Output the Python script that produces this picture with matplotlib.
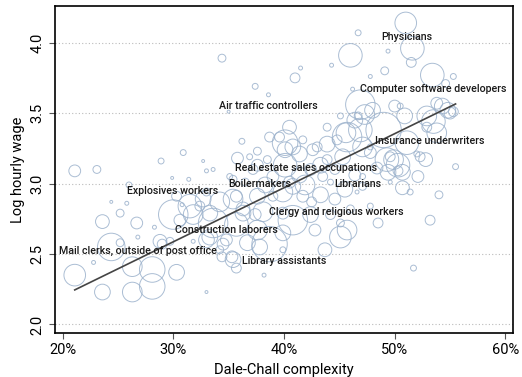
import numpy as np
import matplotlib.pyplot as plt

plt.rcParams['font.family'] = ['Roboto', 'DejaVu Sans']

# Dale-Chall complexity (%) , log hourly wage, employment (bubble size)
complexity = [
    51.0, 51.6, 51.5, 46.7, 49.4, 44.3, 46.0, 41.5, 41.0, 49.1, 47.8, 53.4, 55.3, 54.6,
    34.4, 37.4, 38.6, 35.0, 36.2, 35.8, 37.6, 30.9, 28.9, 32.7, 33.0, 33.6, 21.1, 23.1,
    29.9, 31.4, 26.0,
    46.9, 47.3, 46.4, 48.0, 46.2, 45.1, 46.7, 49.0, 45.6, 43.9, 40.5, 40.1, 43.9, 45.7,
    47.1, 41.4, 42.6, 43.9, 47.8, 49.3, 49.4,
    53.8, 54.3, 52.9, 50.9, 50.0, 55.0, 50.5, 53.5, 55.3, 52.9, 53.8, 52.8, 52.0, 55.5,
    49.9, 50.3, 52.1, 50.7, 51.4, 54.0, 53.2, 51.7, 54.8, 46.9, 51.1, 52.3, 50.7, 49.6,
    48.4, 45.3, 44.8, 43.0, 41.7, 40.8, 39.6, 47.8,
    43.5, 44.2, 47.8, 48.5, 49.6, 50.3, 45.7, 45.1, 46.6, 43.7, 39.9, 40.8, 41.7, 42.5,
    47.1, 40.8, 47.1, 45.1, 38.2, 40.5, 38.7, 42.4, 41.4, 43.3, 44.6, 46.0, 42.8, 44.2,
    46.4,
    21.1, 22.8, 23.6, 26.3, 28.1, 26.3, 28.1, 30.3, 24.4, 25.2, 23.6, 26.7, 25.2, 25.8,
    24.4, 26.8, 33.0, 28.8, 28.3, 30.0, 31.8, 32.4, 33.6, 29.7, 29.0, 31.8, 33.0, 34.2,
    34.4, 35.4, 35.7, 30.8, 33.0, 35.4, 36.3, 35.3, 36.7, 37.8, 34.5,
    38.7, 40.1, 38.5, 36.9, 35.1, 35.4, 37.2, 39.0, 30.3, 32.7, 31.5, 34.2, 35.7, 37.6,
    39.0, 39.9, 33.3, 36.3, 38.1, 39.9, 30.6, 35.7, 37.6, 33.3, 34.8, 39.9,
    37.6, 36.5, 43.3, 44.6, 40.1, 41.9, 38.3, 45.5, 42.4, 37.4,
]
log_wage = [
    4.14, 3.96, 3.86, 4.07, 3.94, 3.84, 3.91, 3.82, 3.75, 3.80, 3.76, 3.77, 3.76, 3.71,
    3.89, 3.69, 3.63, 3.51, 3.30, 3.18, 3.23, 3.22, 3.16, 3.16, 3.09, 3.10, 3.09, 3.10,
    3.04, 3.03, 2.99,
    3.56, 3.49, 3.45, 3.52, 3.67, 3.48, 3.48, 3.38, 3.36, 3.40, 3.40, 3.29, 3.28, 3.33,
    3.26, 3.21, 3.24, 3.17, 3.22, 3.17, 3.08,
    3.57, 3.55, 3.48, 3.48, 3.55, 3.50, 3.55, 3.44, 3.51, 3.40, 3.36, 3.17, 3.21, 3.12,
    3.17, 3.13, 3.05, 2.97, 2.94, 2.92, 2.74, 2.40, 3.52, 3.38, 3.29, 3.19, 3.08, 3.19,
    3.11, 3.19, 3.31, 3.26, 3.31, 3.26, 3.33, 3.26,
    3.05, 3.01, 2.84, 2.72, 3.01, 3.09, 2.67, 2.72, 2.94, 2.53, 2.53, 2.74, 2.91, 2.87,
    2.98, 2.98, 3.05, 2.62, 2.35, 3.01, 2.57, 3.10, 3.06, 2.92, 2.89, 2.82, 2.67, 2.78,
    3.06,
    2.35, 2.44, 2.23, 2.23, 2.27, 2.41, 2.39, 2.37, 2.55, 2.58, 2.73, 2.72, 2.79, 2.86,
    2.87, 2.62, 2.23, 2.59, 2.69, 2.78, 2.78, 2.84, 2.72, 2.59, 2.57, 2.59, 2.60, 2.53,
    2.48, 2.46, 2.40, 2.85, 2.94, 2.89, 2.79, 2.48, 2.58, 2.55, 2.57,
    3.33, 3.24, 3.17, 3.19, 3.05, 3.03, 3.10, 3.05, 2.91, 2.89, 2.84, 2.87, 2.91, 2.91,
    2.91, 2.94, 2.79, 2.82, 2.80, 2.79, 2.74, 2.71, 2.67, 2.62, 2.60, 2.65,
    3.13, 3.01, 3.13, 3.10, 3.13, 2.99, 2.99, 2.96, 2.78, 2.78,
]
employment = [
    1210, 1440, 250, 90, 40, 40, 1440, 40, 250, 160, 40, 1440, 90, 160,
    160, 90, 40, 22, 90, 360, 160, 90, 90, 22, 40, 40, 360, 160,
    22, 40, 90,
    2250, 1000, 640, 640, 40, 90, 160, 3240, 1000, 160, 490, 1690, 640, 2250,
    1000, 640, 360, 250, 360, 1440, 640,
    360, 640, 1000, 640, 360, 360, 90, 1440, 250, 250, 1000, 490, 90, 90,
    1000, 1440, 360, 490, 90, 160, 250, 90, 640, 1440, 1440, 250, 640, 250,
    360, 640, 250, 250, 160, 640, 250, 90,
    250, 90, 90, 250, 40, 250, 1000, 160, 40, 490, 90, 2250, 360, 250,
    160, 640, 90, 1210, 40, 360, 3240, 360, 640, 640, 360, 160, 360, 250,
    360,
    1210, 40, 640, 1000, 1690, 1000, 1690, 640, 1960, 160, 490, 360, 160, 40,
    22, 40, 22, 490, 40, 2250, 1000, 250, 2250, 160, 250, 40, 640, 160,
    250, 640, 250, 40, 160, 1000, 640, 360, 640, 640, 360,
    250, 640, 160, 90, 90, 160, 250, 360, 250, 640, 1440, 1000, 360, 640,
    250, 1000, 640, 490, 1000, 360, 360, 1440, 1000, 640, 360, 640,
    360, 160, 640, 250, 1440, 1000, 640, 640, 640, 360,
]

# fitted line end points
fit_x = [21.1, 55.5]
fit_y = [2.245, 3.565]

label_text = [
    "Physicians", "Air traffic controllers", "Computer software developers",
    "Insurance underwriters", "Real estate sales occupations", "Boilermakers",
    "Librarians", "Explosives workers", "Clergy and religious workers",
    "Construction laborers", "Mail clerks, outside of post office", "Library assistants",
]
label_x = [51.1, 38.6, 53.5, 53.2, 42.0, 37.8, 46.7, 29.9, 44.7, 34.8, 26.8, 40.0]
label_y = [4.04, 3.55, 3.67, 3.30, 3.11, 3.00, 3.00, 2.95, 2.80, 2.67, 2.52, 2.45]

x_ticks = [20, 30, 40, 50, 60]
y_ticks = [2.0, 2.5, 3.0, 3.5, 4.0]

fig = plt.figure(figsize=(5.22, 3.77), dpi=100)
ax = fig.add_axes([0.105, 0.117, 0.878, 0.867])

x = np.array(complexity) / 100
ax.scatter(x, log_wage, s=np.array(employment) * 0.2, facecolors='none',
           edgecolors='#9cb2cc', linewidths=0.7, alpha=0.85, zorder=2)
ax.plot(np.array(fit_x) / 100, fit_y, color='#444444', lw=1.2, zorder=3)

for t, lx, ly in zip(label_text, label_x, label_y):
    ax.text(lx / 100, ly, t, ha='center', va='center', fontsize=7.7,
            color='#1a1a1a', fontweight='medium', zorder=4)

ax.set_xlim(0.193, 0.607)
ax.set_ylim(1.94, 4.26)
ax.set_xticks(np.array(x_ticks) / 100)
ax.set_xticklabels([f"{v}%" for v in x_ticks])
ax.set_yticks(y_ticks)
ax.set_yticklabels([f"{v:.1f}" for v in y_ticks], rotation=90, va='center')
for v in y_ticks:
    ax.axhline(v, color='#bbbbbb', lw=0.8, ls=(0, (1, 2)), zorder=1)

ax.tick_params(labelsize=10.5, length=4, color='#555555')
for s in ax.spines.values():
    s.set_linewidth(1.2)
ax.set_xlabel("Dale-Chall complexity", fontsize=10.5)
ax.set_ylabel("Log hourly wage", fontsize=10.5)

plt.savefig("out.png", dpi=100)
